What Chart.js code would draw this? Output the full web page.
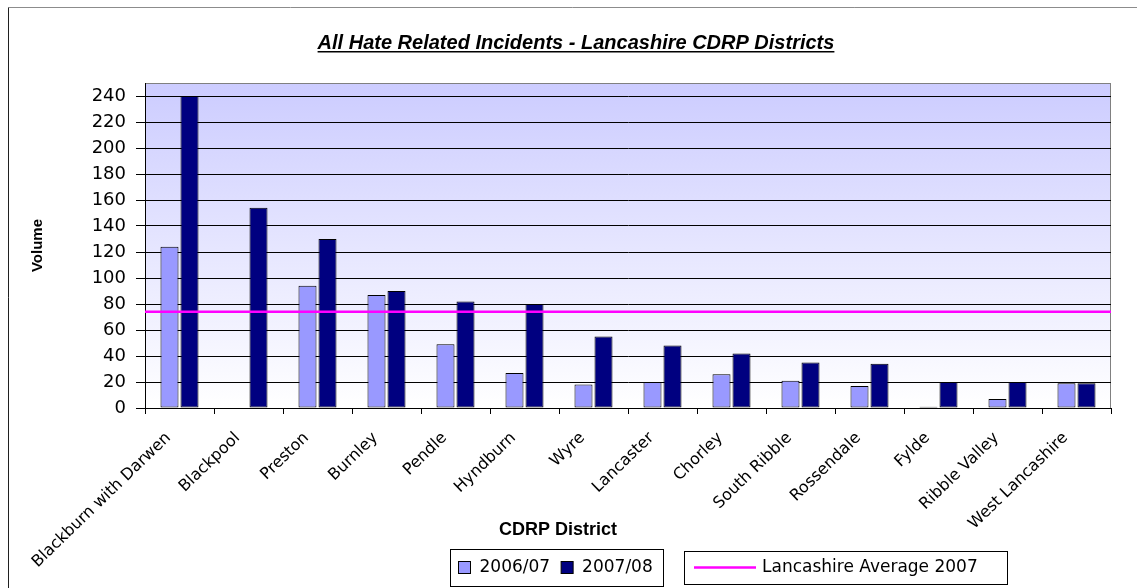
<!DOCTYPE html>
<html>
<head>
<meta charset="utf-8">
<script src="https://cdn.jsdelivr.net/npm/chart.js@4.4.0/dist/chart.umd.min.js"></script>
<style>
  html, body { margin: 0; padding: 0; background: #fff; }
  #wrap { width: 1137px; height: 588px; }
</style>
</head>
<body>
<div id="wrap"><canvas id="hateChart"></canvas></div>
<script>
  // data
  const districts = ['Blackburn with Darwen', 'Blackpool', 'Preston', 'Burnley', 'Pendle', 'Hyndburn', 'Wyre',
    'Lancaster', 'Chorley', 'South Ribble', 'Rossendale', 'Fylde', 'Ribble Valley', 'West Lancashire'];
  const incidents0607 = [124, null, 94, 87, 49, 27, 18, 20, 26, 21, 17, 1, 7, 19];
  const incidents0708 = [240, 154, 130, 90, 82, 80, 55, 48, 42, 35, 34, 20, 20, 19];
  const lancsAverage2007 = 74;
  const averageLabel = 'Lancashire Average 2007';
  const averageColor = '#ff00ff';
  const volumeTicks = [0, 20, 40, 60, 80, 100, 120, 140, 160, 180, 200, 220, 240];
  const volumeMax = 250;

  const regular = "'DejaVu Sans', sans-serif";
  const arial = "'Liberation Sans', Arial, sans-serif";

  // plot background, frame, average line, title, x title and the two legend boxes
  const excelLook = {
    id: 'excelLook',
    beforeDraw(chart) {
      const { ctx, chartArea: a } = chart;
      ctx.save();
      const g = ctx.createLinearGradient(0, a.top, 0, a.bottom);
      g.addColorStop(0, '#ccccff');
      g.addColorStop(1, '#ffffff');
      ctx.fillStyle = g;
      ctx.fillRect(a.left, a.top, a.right - a.left, a.bottom - a.top);
      ctx.strokeStyle = '#808080';
      ctx.lineWidth = 1;
      ctx.strokeRect(a.left + 0.5, a.top + 0.5, a.right - a.left - 1, a.bottom - a.top);
      // outer chart frame, only top and left show in the original
      ctx.strokeStyle = '#8c8c8c';
      ctx.beginPath();
      ctx.moveTo(1137, 7.5);
      ctx.lineTo(8.5, 7.5);
      ctx.stroke();
      ctx.strokeStyle = '#202020';
      ctx.beginPath();
      ctx.moveTo(8.5, 7.5);
      ctx.lineTo(8.5, 588);
      ctx.stroke();
      ctx.restore();
    },
    afterDatasetsDraw(chart) {
      // county average across the whole plot, placed by the y scale
      const { ctx, chartArea: a, scales } = chart;
      const y = scales.y.getPixelForValue(lancsAverage2007);
      ctx.save();
      ctx.strokeStyle = averageColor;
      ctx.lineWidth = 2.5;
      ctx.beginPath();
      ctx.moveTo(a.left, y);
      ctx.lineTo(a.right, y);
      ctx.stroke();
      ctx.restore();
    },
    afterDraw(chart) {
      const ctx = chart.ctx;
      const ds = chart.data.datasets;
      ctx.save();
      ctx.fillStyle = '#000';
      ctx.strokeStyle = '#000';
      ctx.lineWidth = 1;

      // title, underlined
      const title = 'All Hate Related Incidents - Lancashire CDRP Districts';
      ctx.font = 'italic bold 20px ' + arial;
      ctx.textAlign = 'center';
      ctx.textBaseline = 'alphabetic';
      ctx.fillText(title, 576, 48.5);
      const tw = ctx.measureText(title).width;
      ctx.fillRect(576 - tw / 2, 51, tw, 1.5);

      // x axis title
      ctx.font = 'bold 18px ' + arial;
      ctx.fillText('CDRP District', 558, 535);

      // legend: bars
      ctx.font = '17px ' + regular;
      ctx.textAlign = 'left';
      ctx.textBaseline = 'middle';
      ctx.strokeRect(450.5, 549.5, 213, 37);
      let x = 458.5;
      ds.forEach(d => {
        ctx.fillStyle = d.backgroundColor;
        ctx.fillRect(x, 561.5, 12, 12);
        ctx.strokeRect(x, 561.5, 12, 12);
        ctx.fillStyle = '#000';
        ctx.fillText(d.label, x + 21, 568);
        x += 21 + ctx.measureText(d.label).width + 11;
      });

      // legend: average line
      ctx.strokeRect(684.5, 551.5, 323, 33);
      ctx.strokeStyle = averageColor;
      ctx.lineWidth = 2.5;
      ctx.beginPath();
      ctx.moveTo(694, 567.5);
      ctx.lineTo(756, 567.5);
      ctx.stroke();
      ctx.fillText(averageLabel, 762, 568);
      ctx.restore();
    }
  };

  const barStyle = { borderColor: '#000', borderWidth: 1, borderSkipped: false,
    categoryPercentage: 0.58, barPercentage: 0.9 };

  new Chart(document.getElementById('hateChart'), {
    type: 'bar',
    data: {
      labels: districts,
      datasets: [
        { ...barStyle, label: '2006/07', data: incidents0607, backgroundColor: '#9999ff' },
        { ...barStyle, label: '2007/08', data: incidents0708, backgroundColor: '#000080' }
      ]
    },
    options: {
      responsive: true,
      maintainAspectRatio: false,
      animation: false,
      layout: { padding: { left: 8, right: 26, top: 83, bottom: 0 } },
      plugins: { legend: { display: false }, tooltip: { enabled: false } },
      scales: {
        x: {
          offset: true,
          grid: { offset: true, drawOnChartArea: false, color: '#000', tickLength: 6 },
          border: { color: '#000' },
          ticks: {
            color: '#000', font: { family: regular, size: 16 }, minRotation: 44, maxRotation: 44,
            autoSkip: false, padding: 4,
            // trailing gap so the label ends short of the tick, as in the original
            callback: function (value) { return this.getLabelForValue(value) + '   '; }
          },
          afterFit: s => { s.height = 180; }
        },
        y: {
          min: 0,
          max: volumeMax,
          afterBuildTicks: s => { s.ticks = volumeTicks.map(v => ({ value: v })); },
          grid: { color: '#000', tickLength: 9 },
          border: { color: '#000' },
          ticks: { color: '#000', font: { family: regular, size: 18 }, padding: 10 },
          title: { display: true, text: 'Volume', color: '#000', font: { family: arial, size: 15, weight: 'bold' },
            padding: { top: 21, bottom: 0 } },
          afterFit: s => { s.width = 137; }
        }
      }
    },
    plugins: [excelLook]
  });
</script>
</body>
</html>
